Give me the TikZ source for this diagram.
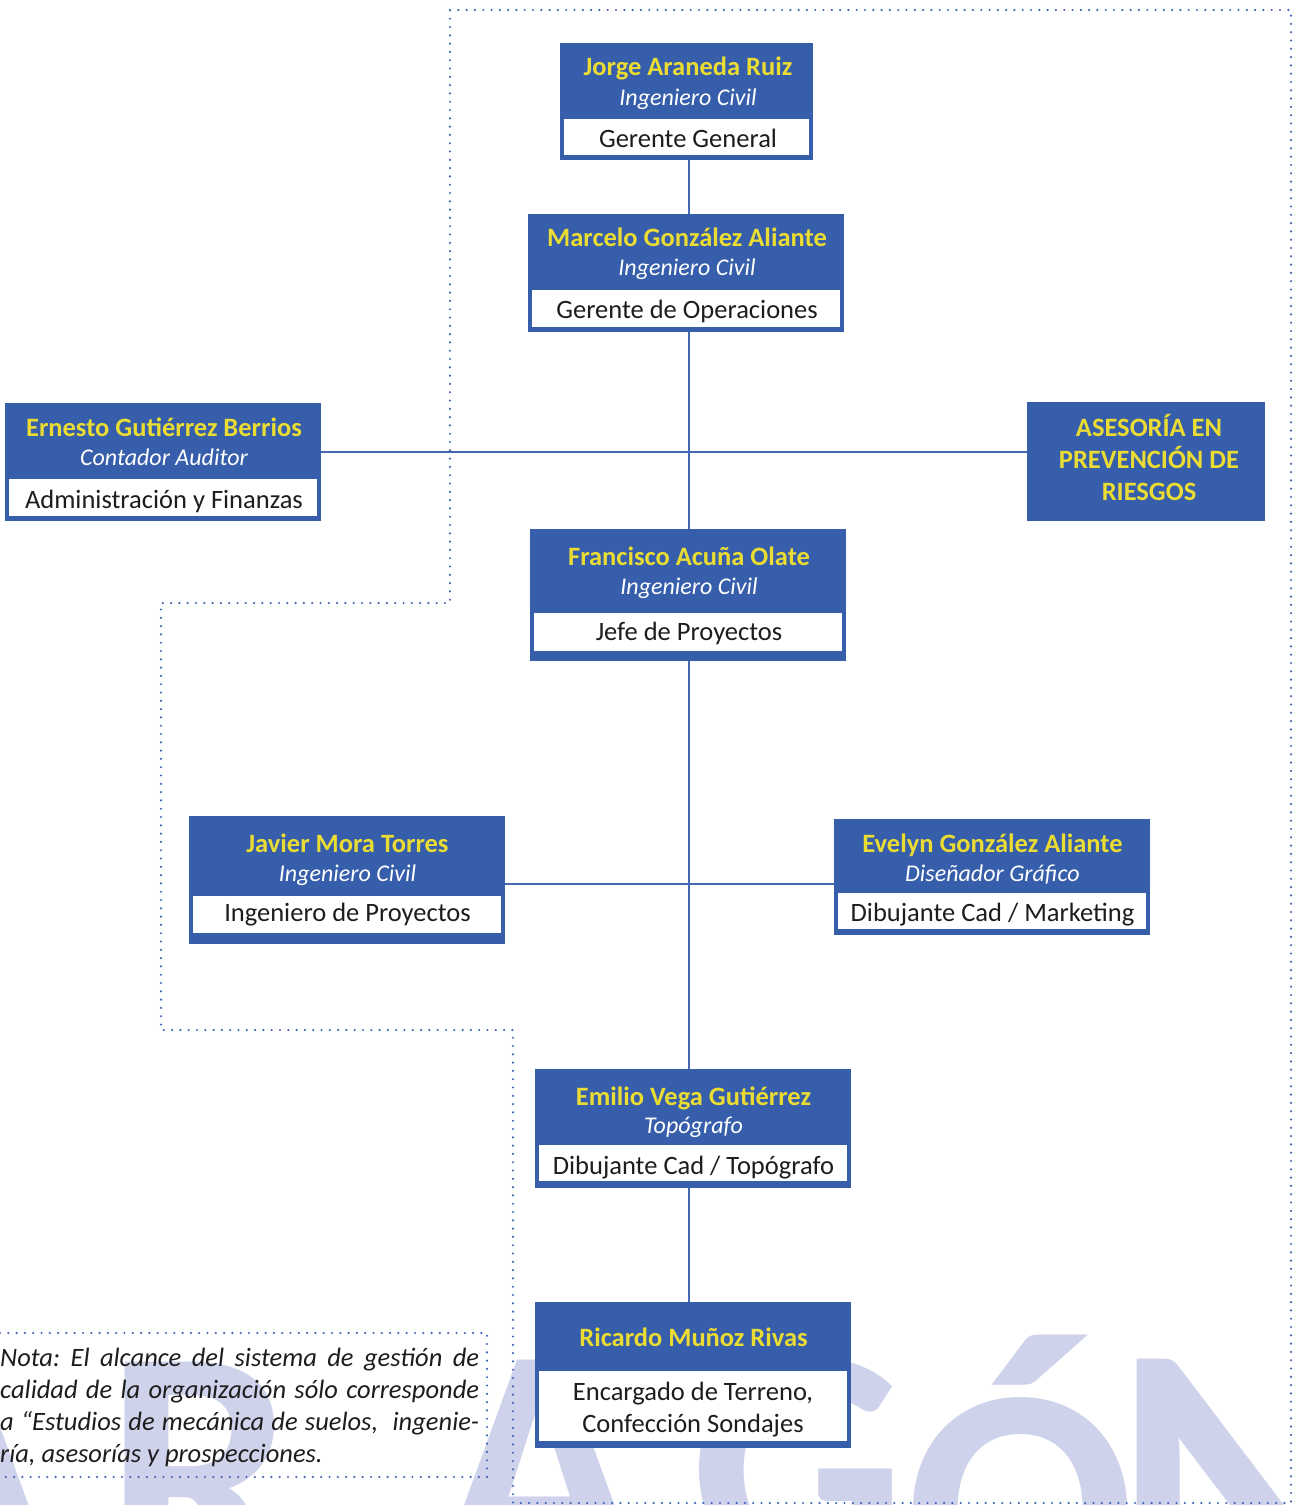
\documentclass[tikz,border=0pt]{standalone}
\usepackage{fontspec}
\setmainfont{Carlito}
\usetikzlibrary{fit}
\pgfdeclarelayer{wmlayer}
\pgfdeclarelayer{linelayer}
\pgfsetlayers{wmlayer,linelayer,main}
\definecolor{boxblue}{HTML}{365EAA}
\definecolor{lineblue}{HTML}{4468B3}
\definecolor{dotblue}{HTML}{3F63B4}
\definecolor{nameyellow}{HTML}{EADC32}
\definecolor{wmark}{HTML}{CED2EB}
\definecolor{txt}{HTML}{1E1C1D}
\tikzset{
  bluebox/.style={fill=boxblue, draw=none, inner sep=0pt, outer sep=0pt},
  whitebox/.style={fill=white, draw=none, inner sep=0pt, outer sep=0pt},
  nametext/.style={text=nameyellow, font=\fontsize{26.5}{32}\selectfont\bfseries, anchor=base, inner sep=0pt},
  roletext/.style={text=white, font=\fontsize{24}{28}\selectfont\itshape, anchor=base, inner sep=0pt},
  titletext/.style={text=txt, font=\fontsize{26.5}{32}\selectfont, anchor=base, inner sep=0pt, align=center},
  link/.style={draw=lineblue, line width=2.5pt},
  scopeline/.style={draw=dotblue, line width=2.4pt, line cap=round, dash pattern=on 0pt off 8.3pt},
  wm/.style={text=wmark, font=\fontsize{340}{340}\selectfont\bfseries, anchor=base west, inner sep=0pt},
}
% frame: #1 name, #2 left, #3 top, #4 right, #5 bottom, #6 white top, #7 white bottom
\newcommand\OrgFrame[7]{%
  \node[bluebox, fit={(#2,#3)(#4,#5)}] (#1) {};
  \node[whitebox, fit={({#2+4},#6)({#4-4},#7)}] (#1w) {};
}
% texts: #1 name, #2 x centre, #3 name centre y, #4 role centre y, #5 title centre y, #6 person, #7 role, #8 title
\newcommand\OrgText[8]{%
  \node[nametext] (#1n) at (#2,{#3+8}) {#6};
  \node[roletext] (#1r) at (#2,{#4+7}) {#7};
  \node[titletext] (#1t) at (#2,{#5+8}) {#8};
}
\begin{document}
\begin{tikzpicture}[x=1pt,y=-1pt]
\useasboundingbox (0,0) rectangle (1294,1505);
% watermark
\begin{pgfonlayer}{wmlayer}
\begin{scope}
\clip (0,0) rectangle (1294,1505);
\node[wm] (wmA1) at (-150,1580) {A};
\node[wm] (wmR) at (105,1582) {R};
\node[wm] (wmA2) at (436,1580) {A};
\node[wm] (wmG) at (690,1580) {G};
\node[wm] (wmO) at (905,1620) {Ó};
\node[wm, font=\fontsize{380}{380}\selectfont\bfseries] (wmN) at (1114,1605) {N};
\end{scope}
\end{pgfonlayer}
% dotted scope outline
\draw[scopeline] (450,10) -- (1291,10) -- (1291,1503) -- (513,1503) -- (513,1030)
  -- (161,1030) -- (161,603) -- (450,603) -- cycle;
\draw[scopeline] (0,1333) -- (487,1333) -- (487,1477) -- (0,1477);
% note
\node[anchor=base west, inner sep=0pt, text=txt, font=\fontsize{26.5}{32}\selectfont\itshape] (nota) at (0,1366)
 {\parbox[t]{479pt}{\frenchspacing Nota: El alcance del sistema de gestión de\linebreak
 calidad de la organización sólo corresponde\linebreak
 a “Estudios de mecánica de suelos,\ \ ingenie-\linebreak
 ría, asesorías y prospecciones.}};
% spine coordinates
\coordinate (hubA) at (689,452);
\coordinate (hubB) at (689,884);
% frames
\OrgFrame{jorge}{560}{43}{813}{160}{119}{155}
\OrgFrame{marcelo}{528}{214}{844}{332}{290}{327}
\OrgFrame{ernesto}{5}{403}{321}{521}{479}{516}
\OrgFrame{francisco}{530}{529}{846}{661}{613}{651}
\OrgFrame{javier}{189}{816}{505}{944}{896}{933}
\OrgFrame{evelyn}{834}{819}{1150}{935}{893}{929}
\OrgFrame{emilio}{535}{1069}{851}{1188}{1145}{1181}
\OrgFrame{ricardo}{535}{1302}{851}{1448}{1371}{1441}
\node[bluebox, fit={(1027,402)(1265,521)}] (asesoria) {};
% connectors, behind the frames
\begin{pgfonlayer}{linelayer}
\draw[link] (jorge.south -| hubA) -- (marcelo.north -| hubA);
\draw[link] (marcelo.south -| hubA) -- (francisco.north -| hubA);
\draw[link] (ernesto.east |- hubA) -- (asesoria.west |- hubA);
\draw[link] (francisco.south -| hubB) -- (emilio.north -| hubB);
\draw[link] (javier.east |- hubB) -- (evelyn.west |- hubB);
\draw[link] (emilio.south -| hubB) -- (ricardo.north -| hubB);
\end{pgfonlayer}
% texts
\OrgText{jorge}{688}{67}{98}{139}{Jorge Araneda Ruiz}{Ingeniero Civil}{Gerente General}
\OrgText{marcelo}{687}{238}{268}{310}{Marcelo González Aliante}{Ingeniero Civil}{Gerente de Operaciones}
\OrgText{ernesto}{164}{428}{458}{500}{Ernesto Gutiérrez Berrios}{Contador Auditor}{Administración y Finanzas}
\OrgText{francisco}{689}{557}{587}{632}{Francisco Acuña Olate}{Ingeniero Civil}{Jefe de Proyectos}
\OrgText{javier}{347.5}{844}{874}{913}{Javier Mora Torres}{Ingeniero Civil}{Ingeniero de Proyectos}
\OrgText{evelyn}{992.5}{844}{874}{913}{Evelyn González Aliante}{Diseñador Gráfico}{Dibujante Cad / Marketing}
\OrgText{emilio}{693.5}{1097}{1126}{1166}{Emilio Vega Gutiérrez}{Topógrafo}{Dibujante Cad / Topógrafo}
\node[nametext] (ricardon) at (693.5,1346) {Ricardo Muñoz Rivas};
\node[titletext] (ricardot1) at (693,1400) {Encargado de Terreno,};
\node[titletext] (ricardot2) at (693,1432) {Confección Sondajes};
\node[text=nameyellow, font=\fontsize{26.5}{32}\selectfont\bfseries, align=center, inner sep=0pt] (asesoriat) at (1149,457) {ASESORÍA EN\\PREVENCIÓN DE\\RIESGOS};
\end{tikzpicture}
\end{document}
